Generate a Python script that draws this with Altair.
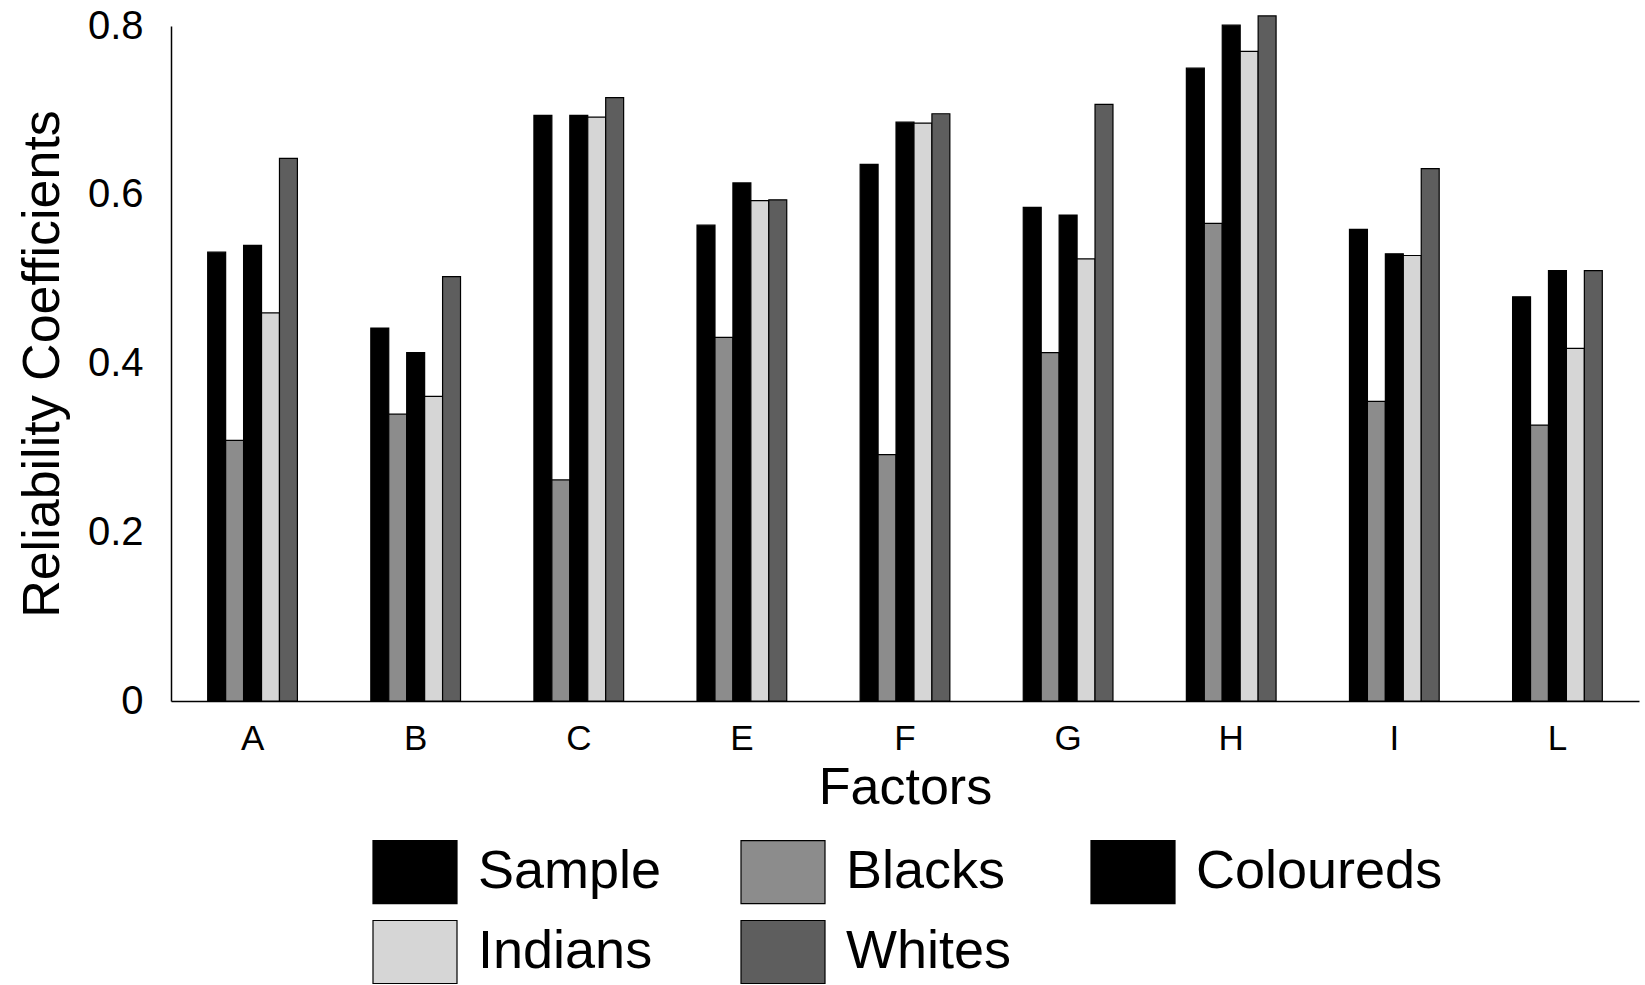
import altair as alt
import pandas as pd

factors = ["A", "B", "C", "E", "F", "G", "H", "I", "L"]
groups = ["Sample", "Blacks", "Coloureds", "Indians", "Whites"]
sample = [0.532, 0.442, 0.694, 0.564, 0.636, 0.585, 0.750, 0.559, 0.479]
blacks = [0.309, 0.340, 0.262, 0.431, 0.292, 0.413, 0.566, 0.355, 0.327]
coloureds = [0.540, 0.413, 0.694, 0.614, 0.686, 0.576, 0.801, 0.530, 0.510]
indians = [0.460, 0.361, 0.692, 0.593, 0.685, 0.524, 0.770, 0.528, 0.418]
whites = [0.643, 0.503, 0.715, 0.594, 0.696, 0.707, 0.812, 0.631, 0.510]
y_ticks = [0, 0.2, 0.4, 0.6, 0.8]

series = dict(zip(groups, [sample, blacks, coloureds, indians, whites]))
rows = []
for g in groups:
    for f, v in zip(factors, series[g]):
        rows.append({"Factor": f, "Group": g, "Value": v})
df = pd.DataFrame(rows)

colors = ["#000000", "#8c8c8c", "#000000", "#d6d6d6", "#5e5e5e"]
FONT = "Liberation Sans"

chart = alt.Chart(df).mark_bar(stroke="black", strokeWidth=1.2).encode(
    x=alt.X("Factor:N", sort=factors,
            scale=alt.Scale(paddingInner=0.45, paddingOuter=0.225),
            axis=alt.Axis(title="Factors", labelAngle=0, ticks=False,
                          labelFontSize=35, labelPadding=20,
                          titleFontSize=52, titlePadding=6,
                          domainColor="black", domainWidth=1.5,
                          labelColor="black", titleColor="black",
                          titleFontWeight="normal")),
    xOffset=alt.XOffset("Group:N", sort=groups),
    y=alt.Y("Value:Q", scale=alt.Scale(domain=[0, 0.8], nice=False),
            axis=alt.Axis(title="Reliability Coefficients", values=y_ticks,
                          format="~g", ticks=False, grid=False,
                          labelFontSize=40, labelPadding=28,
                          titleFontSize=52, titlePadding=18,
                          domainColor="black", domainWidth=1.5,
                          labelColor="black", titleColor="black",
                          titleFontWeight="normal")),
    color=alt.Color("Group:N", sort=groups,
                    scale=alt.Scale(domain=groups, range=colors),
                    legend=alt.Legend(
                        title=None, orient="none", legendX=201, legendY=803,
                        direction="horizontal", columns=3,
                        symbolType="M-1,-0.75H1V0.75H-1Z", symbolSize=7056,
                        symbolStrokeColor="black", symbolStrokeWidth=1.2,
                        symbolOpacity=1,
                        labelFontSize=54, labelOffset=20, labelLimit=500,
                        labelColor="black",
                        columnPadding=76, rowPadding=3)),
).properties(
    width=1468, height=675,
    autosize=alt.AutoSizeParams(type="none"),
    padding={"left": 171, "top": 26, "right": 6, "bottom": 284},
    background="white",
).configure(font=FONT).configure_view(stroke=None)

chart.save("out.html", embed_options={"renderer": "svg", "actions": False})
